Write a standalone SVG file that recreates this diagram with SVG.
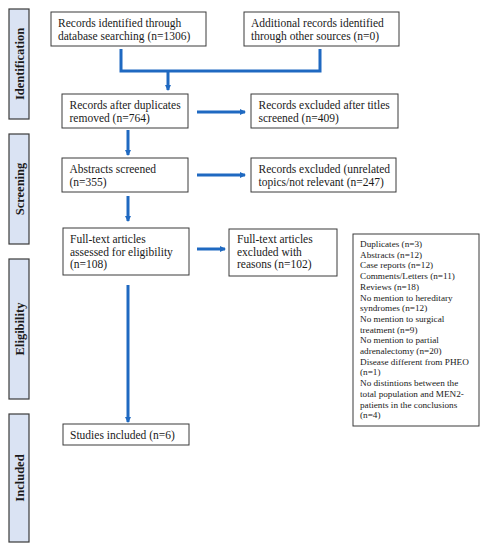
<svg xmlns="http://www.w3.org/2000/svg" width="488" height="550" viewBox="0 0 488 550">
<style>
.bg{fill:#ffffff}
.box{fill:#ffffff;stroke:#3a3a3a;stroke-width:1}
.side{fill:#dae3f3;stroke:#3a3a3a;stroke-width:1.2}
.t{font-family:"Liberation Serif","Times New Roman",serif;font-size:11.5px;fill:#1a1a1a}
.s{font-family:"Liberation Serif","Times New Roman",serif;font-size:9.2px;fill:#1a1a1a}
.lab{font-family:"Liberation Serif","Times New Roman",serif;font-size:12.5px;font-weight:bold;fill:#1a1a1a;text-anchor:middle}
.c{fill:none;stroke:#1f69c1;stroke-width:3}
</style>
<defs>
<marker id="ah" viewBox="0 0 6 6" refX="5" refY="3" markerWidth="6" markerHeight="6" markerUnits="userSpaceOnUse" orient="auto">
<path d="M0,0 L6,3 L0,6 Z" fill="#1f69c1"/>
</marker>
</defs>
<rect class="bg" x="0" y="0" width="488" height="550"/>

<g id="side-identification"><rect class="side" x="9" y="9" width="20" height="110"/><text class="lab" transform="translate(23.5,64) rotate(-90)">Identification</text></g>
<g id="side-screening"><rect class="side" x="9" y="134" width="20" height="110"/><text class="lab" transform="translate(23.5,189) rotate(-90)">Screening</text></g>
<g id="side-eligibility"><rect class="side" x="9" y="259" width="20" height="140"/><text class="lab" transform="translate(23.5,329) rotate(-90)">Eligibility</text></g>
<g id="side-included"><rect class="side" x="9" y="414" width="20" height="128"/><text class="lab" transform="translate(23.5,478) rotate(-90)">Included</text></g>

<g id="n1"><rect class="box" x="51" y="12" width="155" height="34"/><text class="t" x="58" y="27">Records identified through</text><text class="t" x="58" y="39.5">database searching (n=1306)</text></g>
<g id="n2"><rect class="box" x="244" y="12" width="155" height="34"/><text class="t" x="251" y="27">Additional records identified</text><text class="t" x="251" y="39.5">through other sources (n=0)</text></g>
<g id="n3"><rect class="box" x="62" y="94" width="126" height="34"/><text class="t" x="69.5" y="109">Records after duplicates</text><text class="t" x="69.5" y="121.5">removed (n=764)</text></g>
<g id="n4"><rect class="box" x="251" y="94" width="147" height="34"/><text class="t" x="258.5" y="109">Records excluded after titles</text><text class="t" x="258.5" y="121.5">screened (n=409)</text></g>
<g id="n5"><rect class="box" x="62" y="158" width="126" height="34"/><text class="t" x="69.5" y="173">Abstracts screened</text><text class="t" x="69.5" y="185.5">(n=355)</text></g>
<g id="n6"><rect class="box" x="251" y="158" width="145" height="34"/><text class="t" x="258.5" y="173">Records excluded (unrelated</text><text class="t" x="258.5" y="185.5">topics/not relevant (n=247)</text></g>
<g id="n7"><rect class="box" x="63" y="228" width="126" height="47"/><text class="t" x="70" y="243">Full-text articles</text><text class="t" x="70" y="255.5">assessed for eligibility</text><text class="t" x="70" y="268">(n=108)</text></g>
<g id="n8"><rect class="box" x="229" y="229" width="108" height="47"/><text class="t" x="237" y="243">Full-text articles</text><text class="t" x="237" y="255.5">excluded with</text><text class="t" x="237" y="268">reasons (n=102)</text></g>
<g id="n9"><rect class="box" x="353" y="234" width="126" height="192"/>
<text class="s" x="360" y="247">Duplicates (n=3)</text>
<text class="s" x="360" y="257.7">Abstracts (n=12)</text>
<text class="s" x="360" y="268.4">Case reports (n=12)</text>
<text class="s" x="360" y="279.1">Comments/Letters (n=11)</text>
<text class="s" x="360" y="289.8">Reviews (n=18)</text>
<text class="s" x="360" y="300.5">No mention to hereditary</text>
<text class="s" x="360" y="311.2">syndromes (n=12)</text>
<text class="s" x="360" y="321.9">No mention to surgical</text>
<text class="s" x="360" y="332.6">treatment (n=9)</text>
<text class="s" x="360" y="343.3">No mention to partial</text>
<text class="s" x="360" y="354">adrenalectomy (n=20)</text>
<text class="s" x="360" y="364.7">Disease different from PHEO</text>
<text class="s" x="360" y="375.4">(n=1)</text>
<text class="s" x="360" y="386.1">No distintions between the</text>
<text class="s" x="360" y="396.8">total population and MEN2-</text>
<text class="s" x="360" y="407.5">patients in the conclusions</text>
<text class="s" x="360" y="418.2">(n=4)</text>
</g>
<g id="n10"><rect class="box" x="63" y="424" width="126" height="21"/><text class="t" x="70" y="438.5">Studies included (n=6)</text></g>

<g id="connectors">
<path class="c" d="M121,49 V71 H320 V49"/>
<path class="c" d="M168,71 V90" marker-end="url(#ah)"/>
<path class="c" d="M197,112 H245" marker-end="url(#ah)"/>
<path class="c" d="M128,130 V155" marker-end="url(#ah)"/>
<path class="c" d="M197,175 H245" marker-end="url(#ah)"/>
<path class="c" d="M128,196 V221" marker-end="url(#ah)"/>
<path class="c" d="M197,249 H225" marker-end="url(#ah)"/>
<path class="c" d="M128,285 V422" marker-end="url(#ah)"/>
</g>
</svg>
